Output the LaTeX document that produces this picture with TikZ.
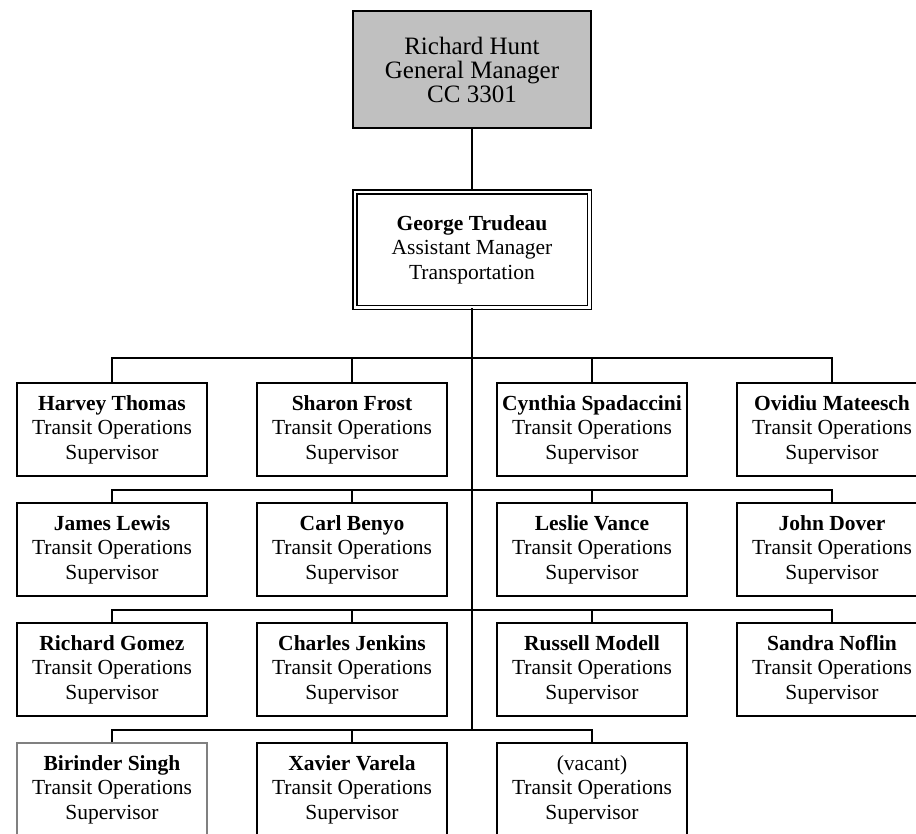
\documentclass[tikz,border=0pt]{standalone}
\usepackage{fontspec}
\setmainfont{Liberation Serif}
\definecolor{boxgray}{HTML}{C0C0C0}
\definecolor{edgegray}{HTML}{808080}
\begin{document}
\begin{tikzpicture}[x=1pt,y=-1pt,
  person/.style={draw=black, line width=2pt, minimum width=190pt, minimum height=93pt,
    inner sep=0pt, align=center, font=\fontsize{21.5}{24.5}\selectfont},
  chief/.style={draw=black, fill=boxgray, line width=2pt, minimum width=238pt, minimum height=117pt,
    inner sep=0pt, align=center, font=\fontsize{25}{24}\selectfont},
  deputy/.style={draw=black, double=white, double distance=2.5pt, line width=1.5pt,
    minimum width=234.5pt, minimum height=115.5pt, inner sep=0pt, align=center,
    font=\fontsize{21.5}{24.5}\selectfont},
  faint/.style={draw=edgegray, line width=1.5pt},
  link/.style={draw=black, line width=1.8pt}]
\useasboundingbox (0,0) rectangle (916,833);
\clip (0,0) rectangle (916,833);

\node[chief] (gm) at (472,69.5) {Richard Hunt\\General Manager\\CC 3301};
\node[deputy] (am) at (472,249.5) {\textbf{George Trudeau}\\Assistant Manager\\Transportation};

\node[person] (p11) at (112,429.5) {\textbf{Harvey Thomas}\\Transit Operations\\Supervisor};
\node[person] (p12) at (352,429.5) {\textbf{Sharon Frost}\\Transit Operations\\Supervisor};
\node[person] (p13) at (592,429.5) {\textbf{Cynthia Spadaccini}\\Transit Operations\\Supervisor};
\node[person] (p14) at (832,429.5) {\textbf{Ovidiu Mateesch}\\Transit Operations\\Supervisor};

\node[person] (p21) at (112,549.5) {\textbf{James Lewis}\\Transit Operations\\Supervisor};
\node[person] (p22) at (352,549.5) {\textbf{Carl Benyo}\\Transit Operations\\Supervisor};
\node[person] (p23) at (592,549.5) {\textbf{Leslie Vance}\\Transit Operations\\Supervisor};
\node[person] (p24) at (832,549.5) {\textbf{John Dover}\\Transit Operations\\Supervisor};

\node[person] (p31) at (112,669.5) {\textbf{Richard Gomez}\\Transit Operations\\Supervisor};
\node[person] (p32) at (352,669.5) {\textbf{Charles Jenkins}\\Transit Operations\\Supervisor};
\node[person] (p33) at (592,669.5) {\textbf{Russell Modell}\\Transit Operations\\Supervisor};
\node[person] (p34) at (832,669.5) {\textbf{Sandra Noflin}\\Transit Operations\\Supervisor};

\node[person,faint] (p41) at (112,789.5) {\textbf{Birinder Singh}\\Transit Operations\\Supervisor};
\node[person] (p42) at (352,789.5) {\textbf{Xavier Varela}\\Transit Operations\\Supervisor};
\node[person] (p43) at (592,789.5) {(vacant)\\Transit Operations\\Supervisor};

\coordinate (t1) at (472,358);
\coordinate (t2) at (472,490);
\coordinate (t3) at (472,610);
\coordinate (t4) at (472,730);

\draw[link] (gm.south) -- (am.north);
\draw[link] (am.south) -- (t4);

\draw[link] (p11.north) |- (t1) -| (p14.north);
\draw[link] (t1) -| (p12.north);
\draw[link] (t1) -| (p13.north);

\draw[link] (p21.north) |- (t2) -| (p24.north);
\draw[link] (t2) -| (p22.north);
\draw[link] (t2) -| (p23.north);

\draw[link] (p31.north) |- (t3) -| (p34.north);
\draw[link] (t3) -| (p32.north);
\draw[link] (t3) -| (p33.north);

\draw[link] (p41.north) |- (t4) -| (p43.north);
\draw[link] (t4) -| (p42.north);
\end{tikzpicture}
\end{document}
